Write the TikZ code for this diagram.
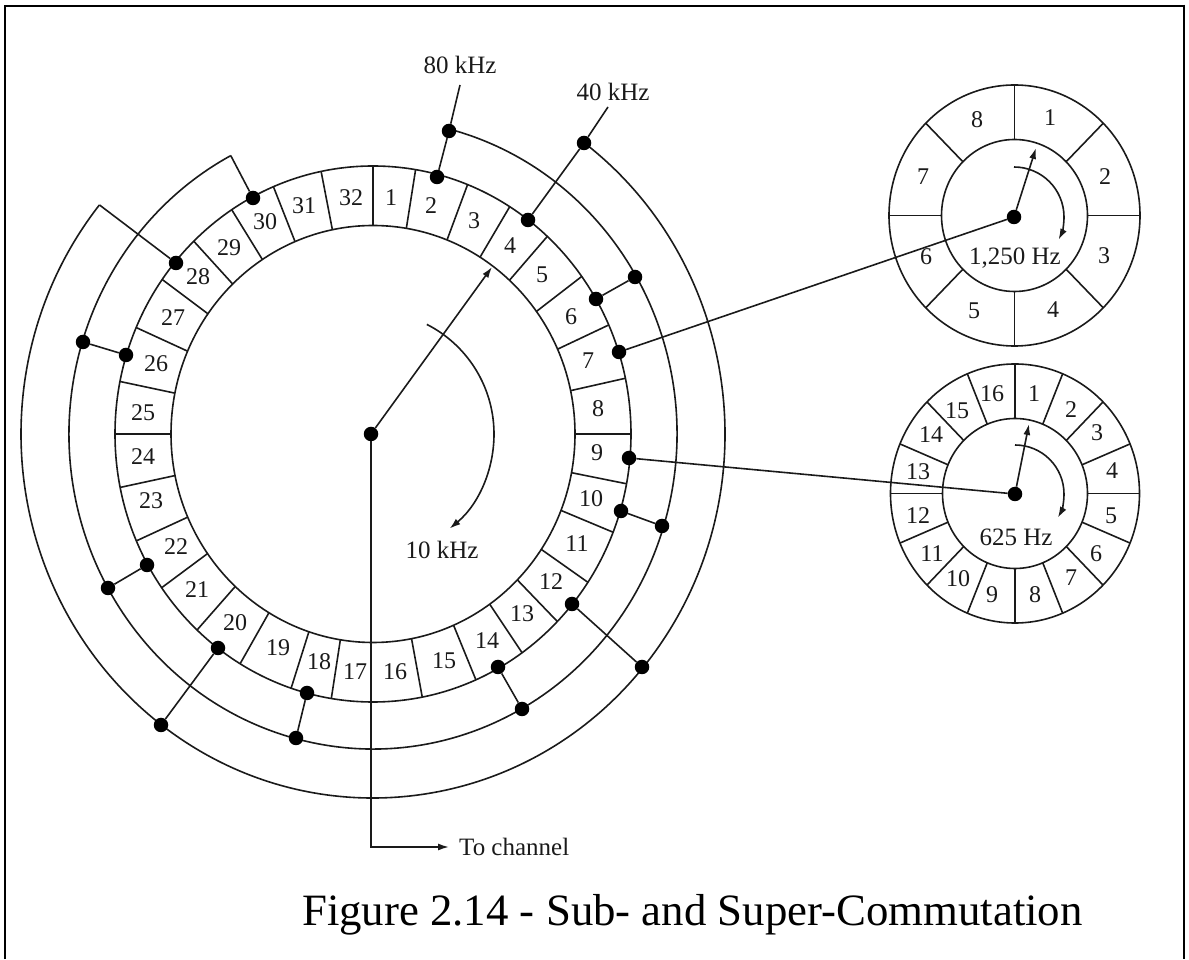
\documentclass[tikz,border=0pt]{standalone}
\usepackage{fontspec}
\setmainfont{Liberation Serif}
\usetikzlibrary{calc,arrows.meta}
\definecolor{wireBlack}{HTML}{1A1A1A}
\tikzset{
  wire/.style={draw=wireBlack, line width=1.6pt},
  flowarrow/.style={-{Latex[length=11pt,width=7pt]}, line width=1.6pt, draw=wireBlack},
  dotnode/.style={circle, fill=black, inner sep=0pt, minimum size=14.5pt},
  cellnum/.style={font=\fontsize{24}{26}\selectfont, text=wireBlack, inner sep=0pt},
  freqlabel/.style={font=\fontsize{25}{27}\selectfont, text=wireBlack, inner sep=0pt},
  % --- frame of the figure ---
  framewire/.style={draw=black, line width=#1},
}

\begin{document}
\begin{tikzpicture}[x=1pt,y=1pt]
  \useasboundingbox (0,0) rectangle (1189,959);
  \draw[framewire=1.8pt] (5,0) -- (5,953) -- (1184,953);
  \draw[framewire=2.8pt] (1184,954.4) -- (1184,0);

  % main commutator
  \coordinate (rim) at (373,525);
  \draw[wire] (rim) ellipse [x radius=202pt, y radius=208.5pt];
  \draw[wire] (rim) ellipse [x radius=258pt, y radius=268pt];
  \foreach \a in {90,80.5,68.5,58,47.5,36,24,12,0,-10.7,-21.5,-33.6,-44.4,-54.7,-66.5,-79,-99.3,251.5,239,227,215,203.5,191.5,180,168.7,156.6,144.8,134,123.2,112.7,101.6} {
    \draw[wire] ($(rim)+(\a:202 and 208.5)$) -- ($(rim)+(\a:258 and 268)$);
  }
  \foreach \n/\x/\y in {1/391/761, 2/431/753, 3/474/738, 4/510/713, 5/542/684, 6/571/642, 7/588/598, 8/598/550,
    9/597/506, 10/591/460, 11/577/415, 12/551/377, 13/522/345, 14/487/318, 15/444/298, 16/395/287,
    17/355/287, 18/319/297, 19/278/311, 20/235/336, 21/197/369, 22/176/412, 23/151/458, 24/143/502,
    25/143/546, 26/156/595, 27/173/641, 28/198/682, 29/229/711, 30/265/737, 31/304/753, 32/351/761} {
    \node[cellnum] (cell\n) at (\x,\y) {\n};
  }

  % the two rings outside the commutator
  \path (rim) ++(75.4:304 and 315) coordinate (ringEstart);
  \path (rim) ++(117.9:304 and 315) coordinate (ringEend);
  \path (rim) ++(53.1:352 and 364) coordinate (ringGstart);
  \path (rim) ++(141:352 and 364) coordinate (ringGend);
  \draw[wire] (ringEstart) arc[start angle=75.4, end angle=-242.1, x radius=304pt, y radius=315pt];
  \draw[wire] (ringGstart) arc[start angle=53.1, end angle=-219, x radius=352pt, y radius=364pt];

  % contacts
  \foreach \name/\x/\y in {d2/437/782, d4/528/739, d6/596/660, d7/619/607, d9/629/501, d10/621/448, d12/572/355,
    d14/498/292, d18/307/266, d20/218/311, d22/147/394, d26/126/604, d28/176/696, d30/253/761,
    e80/449/828, e6/635/682, e10/662/433, e14/522/250, e18/296/221, e22/108/371, e26/83/617,
    g40/584/816, g12/642/292, g20/161/234} {
    \node[dotnode] (\name) at (\x,\y) {};
  }
  \foreach \a/\b in {d2/e80, d4/g40, d6/e6, d10/e10, d14/e14, d18/e18, d22/e22, d26/e26, d12/g12, d20/g20, d28/ringGend, d30/ringEend} {
    \draw[wire] (\a) -- (\b);
  }

  % rates
  \node[freqlabel] (f80) at (460,894) {80 kHz};
  \node[freqlabel] (f40) at (613,867) {40 kHz};
  \node[freqlabel] (f10) at (442,409) {10 kHz};
  \coordinate (tick80) at (460,874);
  \coordinate (tick40) at (608,852);
  \draw[wire] (e80) -- (tick80);
  \draw[wire] (g40) -- (tick40);

  % arm of the main commutator
  \node[dotnode] (hub) at (371,525) {};
  \coordinate (armtip) at (492,692);
  \draw[flowarrow] (hub) -- (armtip);
  \draw[flowarrow] (hub) ++(63:123) arc[start angle=63, end angle=-50.3, radius=123pt];
  \node[freqlabel, anchor=west, inner xsep=10pt] (tochannel) at (449,112) {To channel};
  \draw[flowarrow] (hub) |- (tochannel.west);

  % 1,250 Hz wheel
  \coordinate (rimA) at (1014.5,743.5);
  \draw[wire] (rimA) ellipse [x radius=73pt, y radius=76pt];
  \draw[wire] (rimA) ellipse [x radius=125.5pt, y radius=130.5pt];
  \foreach \a in {0,45,...,315} {
    \draw[wire] ($(rimA)+(\a:73 and 76)$) -- ($(rimA)+(\a:125.5 and 130.5)$);
  }
  \foreach \n/\x/\y in {1/1050/841, 2/1105/782, 3/1104/703, 4/1053/649, 5/974/648, 6/926/702, 7/923/782, 8/977/839} {
    \node[cellnum] (wa\n) at (\x,\y) {\n};
  }
  \node[dotnode] (hubA) at (1014,742) {};
  \coordinate (armtipA) at (1036,811);
  \draw[flowarrow] (hubA) -- (armtipA);
  \draw[flowarrow] (hubA) ++(90:50) arc[start angle=90, end angle=-27, radius=50pt];
  \node[freqlabel] (f1250) at (1015,701) {1,250 Hz};
  \draw[wire] (d7) -- (hubA);

  % 625 Hz wheel
  \coordinate (rimB) at (1015,465.5);
  \draw[wire] (rimB) ellipse [x radius=72.5pt, y radius=75pt];
  \draw[wire] (rimB) ellipse [x radius=124.5pt, y radius=129.5pt];
  \foreach \a in {0,22.5,...,337.5} {
    \draw[wire] ($(rimB)+(\a:72.5 and 75)$) -- ($(rimB)+(\a:124.5 and 129.5)$);
  }
  \foreach \n/\x/\y in {1/1034/565, 2/1071/549, 3/1097/526, 4/1112/488, 5/1111/443, 6/1096/405, 7/1071/381, 8/1035/364,
    9/992/364, 10/958/380, 11/932/405, 12/918/443, 13/918/487, 14/931/524, 15/957/548, 16/992/565} {
    \node[cellnum] (wb\n) at (\x,\y) {\n};
  }
  \node[dotnode] (hubB) at (1015,465) {};
  \coordinate (armtipB) at (1029,535);
  \draw[flowarrow] (hubB) -- (armtipB);
  \draw[flowarrow] (hubB) ++(90:49) arc[start angle=90, end angle=-29, radius=49pt];
  \node[freqlabel] (f625) at (1016,422) {625 Hz};
  \draw[wire] (d9) -- (hubB);

  \node[anchor=base west, inner sep=0pt, font=\fontsize{44.8}{50}\selectfont] (caption) at (302,34) {Figure 2.14 - Sub- and Super-Commutation};
\end{tikzpicture}
\end{document}
